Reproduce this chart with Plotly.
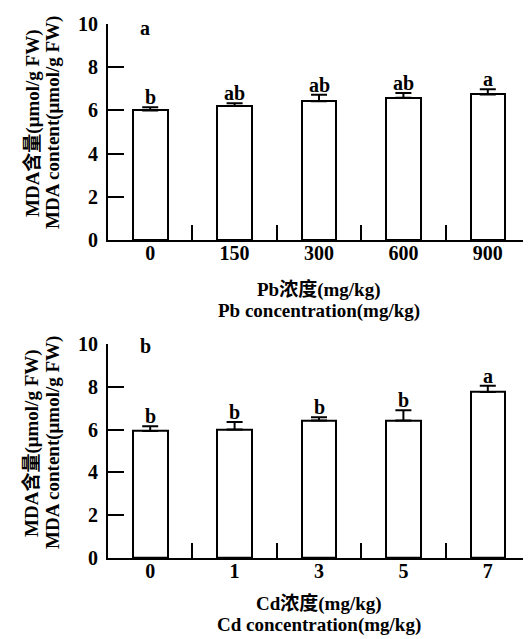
import plotly.graph_objects as go

pb_levels = ["0", "150", "300", "600", "900"]
pb_mda = [6.0, 6.2, 6.42, 6.58, 6.74]
pb_err = [0.15, 0.13, 0.3, 0.22, 0.24]
pb_sig = ["b", "ab", "ab", "ab", "a"]

cd_levels = ["0", "1", "3", "5", "7"]
cd_mda = [5.93, 6.0, 6.42, 6.42, 7.75]
cd_err = [0.22, 0.35, 0.15, 0.48, 0.3]
cd_sig = ["b", "b", "b", "b", "a"]

yticks = [0, 2, 4, 6, 8, 10]

FONT = "'Liberation Serif', 'Noto Sans CJK SC', serif"
TICKF = dict(family=FONT, size=20, color="black", weight="bold")
TF = dict(family=FONT, size=19, color="black", weight="bold")
LF = dict(family=FONT, size=20, color="black", weight="bold")

fig = go.Figure()

def add_panel(levels, vals, errs, sig, xa, ya):
    fig.add_trace(go.Bar(
        x=levels, y=vals, xaxis=xa, yaxis=ya, width=0.41,
        marker=dict(color="white", line=dict(color="black", width=2)),
        error_y=dict(type="data", symmetric=False, array=errs,
                     arrayminus=[0] * len(errs), color="black",
                     thickness=2, width=8),
        showlegend=False, hoverinfo="skip"))
    for i, (v, e, s) in enumerate(zip(vals, errs, sig)):
        fig.add_annotation(x=i, y=v + e, xref=xa, yref=ya, text=s,
                           showarrow=False, yanchor="bottom", yshift=-3,
                           font=LF)

add_panel(pb_levels, pb_mda, pb_err, pb_sig, "x", "y")
add_panel(cd_levels, cd_mda, cd_err, cd_sig, "x2", "y2")

axis_common_x = dict(type="category", range=[-0.5, 4.5], showline=True,
                     linecolor="black", linewidth=2, ticks="inside",
                     tickson="boundaries", ticklen=15, tickwidth=2,
                     tickcolor="black", tickfont=TICKF, showgrid=False,
                     zeroline=False, fixedrange=True, ticklabelstandoff=-6,
                     automargin=False)
axis_common_y = dict(range=[0, 10], tickvals=yticks, showline=True,
                     linecolor="black", linewidth=2, ticks="inside",
                     ticklen=16, tickwidth=2, tickcolor="black",
                     tickfont=TICKF, showgrid=False, zeroline=False,
                     fixedrange=True, automargin=False, ticklabelstandoff=4)

# page body has an 8px margin; size the figure so the plot lands in place
fig.update_layout(
    width=523, height=631,
    margin=dict(l=100, r=1, t=16, b=81),
    plot_bgcolor="white", paper_bgcolor="white",
    bargap=0,
    font=dict(family=FONT),
    xaxis=dict(axis_common_x, anchor="y"),
    yaxis=dict(axis_common_y, domain=[0.5955, 1.0], anchor="x"),
    xaxis2=dict(axis_common_x, anchor="y2"),
    yaxis2=dict(axis_common_y, domain=[0.0, 0.401], anchor="x2"),
)

ylab1 = "MDA含量(μmol/g FW)"
ylab2 = "MDA content(μmol/g FW)"
for ymid in [0.8146, 0.2154]:
    fig.add_annotation(xref="paper", yref="paper", x=-0.1801, y=ymid,
                       text=ylab1, textangle=-90, showarrow=False,
                       xanchor="center", yanchor="middle", font=TF)
    fig.add_annotation(xref="paper", yref="paper", x=-0.1303, y=ymid,
                       text=ylab2, textangle=-90, showarrow=False,
                       xanchor="center", yanchor="middle", font=TF)

for y0, lines, shifts in [
    (0.5955, ["Pb浓度(mg/kg)", "Pb concentration(mg/kg)"], [-49, -71]),
    (0.0, ["Cd浓度(mg/kg)", "Cd concentration(mg/kg)"], [-45, -67]),
]:
    for t, s in zip(lines, shifts):
        fig.add_annotation(xref="paper", yref="paper", x=0.5, y=y0, yshift=s,
                           text=t, showarrow=False, yanchor="middle", font=TF)

fig.add_annotation(xref="x", yref="y", x=-0.06, y=10, yshift=-4, text="a",
                   showarrow=False, font=LF)
fig.add_annotation(xref="x2", yref="y2", x=-0.06, y=10, yshift=-2, text="b",
                   showarrow=False, font=LF)

fig.write_html("out.html")
